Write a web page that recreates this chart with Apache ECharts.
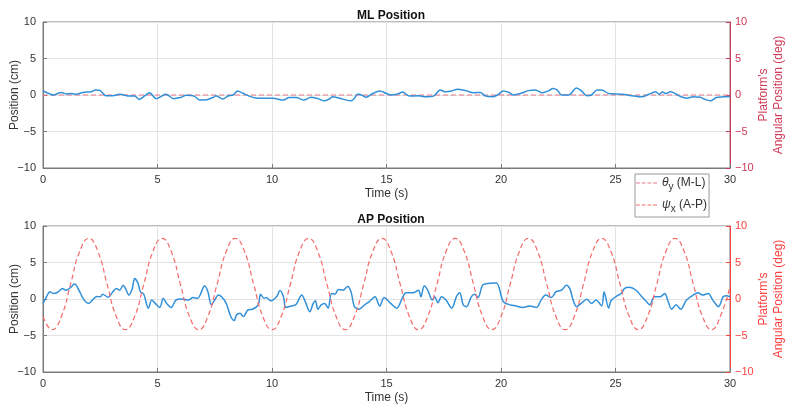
<!DOCTYPE html>
<html><head><meta charset="utf-8">
<script src="https://cdn.jsdelivr.net/npm/echarts@6/dist/echarts.min.js"></script>
<style>html,body{margin:0;padding:0;background:#fff}#c{width:790px;height:410px}</style>
</head><body><div id="c"></div><script>
// ---- data ----
const xTicks = [0, 5, 10, 15, 20, 25, 30];
const yTicks = [-10, -5, 0, 5, 10];

const mlTime = [0,0.3,0.44,0.8,1.0,1.25,1.45,1.75,2.1,2.3,2.5,2.75,3.05,3.35,3.8,4.0,4.2,4.45,4.65,4.95,5.1,5.35,5.45,5.7,6.0,6.25,6.6,6.85,7.15,7.45,7.55,7.85,8.1,8.3,8.5,8.75,9.0,9.3,9.75,10.05,10.5,10.75,11.05,11.4,11.7,12.0,12.3,12.5,12.65,12.95,13.25,13.45,13.6,13.75,13.9,14.1,14.4,14.7,15.0,15.2,15.5,15.7,16.0,16.4,16.7,17.05,17.35,17.55,17.85,18.1,18.45,18.8,19.1,19.3,19.6,19.85,20.1,20.35,20.55,20.85,21.2,21.5,21.8,22.1,22.25,22.45,22.65,22.95,23.3,23.5,23.75,23.95,24.2,24.4,24.7,25.0,25.3,25.7,26.15,26.45,26.75,26.9,27.05,27.2,27.4,27.8,28.1,28.4,28.7,28.9,29.15,29.4,29.7,30.0];
const mlPos = [0.55,0.15,0,0.35,0.15,0.2,0.1,0.35,0.45,0.7,0.6,-0.1,-0.1,0.1,-0.15,-0.15,-0.6,-0.1,0.3,-0.5,-0.3,0.1,0,-0.5,-0.35,-0.05,-0.15,-0.7,-0.65,-0.3,-0.1,-0.55,-0.1,0,0.55,0.2,-0.15,-0.4,-0.45,-0.45,-0.7,-0.35,-0.35,-0.7,-0.3,-0.5,-0.8,-0.55,-0.25,-0.45,-0.7,-0.8,-0.45,0.15,0,-0.3,0.2,0.55,0.2,0,0.15,0.4,-0.15,-0.1,-0.25,-0.15,0.7,0.45,0.55,0.8,0.6,0.3,0.35,-0.1,-0.25,0,0.55,0.35,0,0.2,0.6,0.7,0.3,0.6,0.9,0.7,0,0,0.95,0.6,-0.1,0,0.7,0.7,0.2,0.15,0.1,-0.1,-0.25,0.1,0.45,0.1,0.4,0.2,0.45,-0.15,-0.45,-0.25,-0.3,-0.6,-0.8,-0.35,-0.25,-0.2];

const mlAngleTime = [0, 30];
const mlAngle = [0, 0];

const apTime = [0,0.15,0.3,0.45,0.6,0.75,0.85,1.0,1.25,1.35,1.45,1.6,1.8,2.0,2.2,2.35,2.5,2.6,2.85,3.05,3.2,3.35,3.5,3.6,3.75,3.9,4.0,4.15,4.25,4.4,4.6,4.75,4.9,5.1,5.25,5.4,5.6,5.8,6.05,6.35,6.55,6.75,7.0,7.05,7.2,7.35,7.5,7.65,7.8,8.0,8.2,8.35,8.45,8.6,8.75,8.95,9.15,9.4,9.5,9.65,9.75,9.95,10.2,10.35,10.5,10.6,10.85,11.05,11.3,11.45,11.65,11.8,11.9,12.0,12.15,12.3,12.45,12.6,12.75,12.9,13.1,13.3,13.45,13.6,13.8,14.05,14.25,14.5,14.7,14.9,15.15,15.45,15.7,15.85,16.15,16.4,16.5,16.65,16.8,17.0,17.1,17.25,17.4,17.6,17.85,18.05,18.2,18.35,18.5,18.7,18.85,19.0,19.2,19.5,19.8,20.1,20.4,20.65,20.95,21.25,21.55,21.75,21.95,22.2,22.4,22.65,22.85,23.0,23.15,23.3,23.5,23.75,23.95,24.15,24.4,24.5,24.7,24.8,25.05,25.25,25.4,25.6,25.9,26.15,26.35,26.5,26.7,26.95,27.15,27.3,27.45,27.65,27.85,28.1,28.4,28.6,28.8,29.05,29.25,29.5,29.7,29.85,30.0];
const apPos = [-0.6,0.3,1.0,0.75,0.85,1.2,1.45,1.2,1.7,2.05,1.9,1.0,-0.15,-0.6,0,0.35,0.3,0.65,0.25,1.0,1.45,1.2,1.9,1.45,0.55,1.45,2.8,2.15,1.0,0.65,-1.25,-0.15,-0.6,-1.15,0.1,-0.6,-1.15,-0.15,0,-0.15,0.2,0.1,1.6,1.8,1.0,-0.8,-0.15,0.55,0.3,-0.6,-2.4,-2.95,-2.2,-1.95,-2.4,-1.5,-1.4,-0.8,0.65,0.1,0.2,-0.25,0.3,1.15,0.3,-1.15,-0.95,-0.75,0.55,-0.35,-1.75,-0.6,-0.25,-1.4,-0.8,-0.6,-1.25,0.75,0.65,1.3,1.2,1.7,1.0,-1.05,-1.4,-0.8,-0.35,0.3,-0.95,0.2,-0.5,-1.25,0.2,0.85,0.85,1.2,0.3,1.8,1.2,-0.15,0.3,-0.5,0.3,-0.15,-1.25,0.3,0.85,-0.8,-1.05,0.3,0.65,0.2,1.9,2.15,2.2,-0.35,-0.8,-0.95,-1.15,-0.95,-1.15,-0.15,0.55,0.2,1.0,1.2,1.9,1.45,-0.15,-1.05,-0.6,-0.05,-0.6,-0.15,-0.95,1.0,-1.25,-0.25,0.4,0.75,1.45,1.6,1.2,0.3,-0.35,-0.8,0.3,0.3,0.75,-0.35,-1.4,-0.8,-1.4,-0.15,0.55,0.85,0.55,0.75,-0.15,-1.05,0.3,0.45,0.3];

const apAngleTime = [0,0.4,0.8,1.2,1.6,2.0,2.4,2.8,3.2,3.6,4.0,4.4,4.8,5.2,5.6,6.0,6.4,6.8,7.2,7.6,8.0,8.4,8.8,9.2,9.6,10.0,10.4,10.8,11.2,11.6,12.0,12.4,12.8,13.2,13.6,14.0,14.4,14.8,15.2,15.6,16.0,16.4,16.8,17.2,17.6,18.0,18.4,18.8,19.2,19.6,20.0,20.4,20.8,21.2,21.6,22.0,22.4,22.8,23.2,23.6,24.0,24.4,24.8,25.2,25.6,26.0,26.4,26.8,27.2,27.6,28.0,28.4,28.8,29.2,29.6,30.0];
const apAngle = [-2.4,
  -4.2,-2.4,2.0,6.5,8.3,6.5,2.0,-2.4,
  -4.2,-2.4,2.0,6.5,8.3,6.5,2.0,-2.4,
  -4.2,-2.4,2.0,6.5,8.3,6.5,2.0,-2.4,
  -4.2,-2.4,2.0,6.5,8.3,6.5,2.0,-2.4,
  -4.2,-2.4,2.0,6.5,8.3,6.5,2.0,-2.4,
  -4.2,-2.4,2.0,6.5,8.3,6.5,2.0,-2.4,
  -4.2,-2.4,2.0,6.5,8.3,6.5,2.0,-2.4,
  -4.2,-2.4,2.0,6.5,8.3,6.5,2.0,-2.4,
  -4.2,-2.4,2.0,6.5,8.3,6.5,2.0,-2.4,
  -4.2,-2.2,1.7];

const titles = ['ML Position', 'AP Position'];
const seriesNames = ['ML', 'θy (M-L)', 'AP', 'ψx (A-P)'];
// ---------------------------------------

const pair = (t, v) => t.map((x, i) => [x, v[i]]);
const FONT = '"Liberation Sans", Arial, sans-serif';
const BLUE = '#3190d8';
const DARK = '#333333';
const AXIS = '#7a7a7a';
const RED_TOP = '#d03a56';
const RED_BOT = '#ff4040';
const DASH_TOP = '#e8788a';
const DASH_BOT = '#f56a6a';
const minus = v => String(v).replace('-', '\u2212');
const DASH_ICON = 'path://M0,0h4v1h-4zM6,0h4v1h-4zM12,0h4v1h-4zM18,0h4v1h-4z';

const grids = [
  {left: 43, right: 60, top: 22, height: 146, show: true, borderColor: AXIS, borderWidth: 1, backgroundColor: '#fff', outerBoundsMode: 'none', containLabel: false},
  {left: 43, right: 60, top: 226, height: 146, show: true, borderColor: AXIS, borderWidth: 1, backgroundColor: '#fff', outerBoundsMode: 'none', containLabel: false}
];

function xAx(i) {
  return {
    type: 'value', gridIndex: i, min: xTicks[0], max: xTicks[xTicks.length-1], interval: 5,
    name: 'Time (s)', nameLocation: 'middle', nameGap: 20, nameMoveOverlap: false,
    nameTextStyle: {color: DARK, fontSize: 12, fontFamily: FONT},
    axisLine: {show: true, onZero: false, lineStyle: {color: AXIS, width: 1}},
    axisTick: {show: true, inside: true, length: 4, lineStyle: {color: AXIS}},
    axisLabel: {color: DARK, fontSize: 11, fontFamily: FONT, margin: 6},
    splitLine: {show: true, lineStyle: {color: '#e4e4e4', width: 1}}
  };
}
function yLeft(i) {
  return {
    type: 'value', gridIndex: i, position: 'left', min: -10, max: 10, interval: 5,
    name: 'Position (cm)', nameLocation: 'middle', nameGap: 22, nameRotate: 90, nameMoveOverlap: false,
    nameTextStyle: {color: DARK, fontSize: 12, fontFamily: FONT},
    axisLine: {show: true, onZero: false, lineStyle: {color: AXIS, width: 1}},
    axisTick: {show: true, inside: true, length: 4, lineStyle: {color: AXIS}},
    axisLabel: {color: DARK, fontSize: 11, fontFamily: FONT, margin: 7, formatter: minus},
    splitLine: {show: true, lineStyle: {color: '#e4e4e4', width: 1}}
  };
}
function yRight(i, col) {
  return {
    type: 'value', gridIndex: i, position: 'right', min: -10, max: 10, interval: 5,
    name: "Platform's\nAngular Position (deg)", nameLocation: 'middle', nameGap: 26, nameRotate: 90, nameMoveOverlap: false,
    nameTextStyle: {color: col, fontSize: 12, fontFamily: FONT, lineHeight: 15},
    axisLine: {show: true, onZero: false, lineStyle: {color: col, width: 1}},
    axisTick: {show: true, inside: true, length: 4, lineStyle: {color: col}},
    axisLabel: {color: col, fontSize: 11, fontFamily: FONT, margin: 5, formatter: minus},
    splitLine: {show: false}
  };
}

const chart = echarts.init(document.getElementById('c'), null, {renderer: 'canvas'});
chart.setOption({
  animation: false,
  backgroundColor: '#fff',
  title: [
    {text: titles[0], left: 386, top: 5, textAlign: 'center', textStyle: {fontSize: 12, fontWeight: 'bold', color: '#111', fontFamily: FONT}},
    {text: titles[1], left: 386, top: 209, textAlign: 'center', textStyle: {fontSize: 12, fontWeight: 'bold', color: '#111', fontFamily: FONT}}
  ],
  grid: grids,
  xAxis: [xAx(0), xAx(1)],
  yAxis: [yLeft(0), yRight(0, RED_TOP), yLeft(1), yRight(1, RED_BOT)],
  legend: {
    data: [{name: seriesNames[1], icon: DASH_ICON}, {name: seriesNames[3], icon: DASH_ICON}],
    orient: 'vertical', left: 635, top: 174,
    backgroundColor: '#fff', borderColor: '#9a9a9a', borderWidth: 1, borderRadius: 0,
    padding: [3, 2, 3, 1], itemGap: 7, itemWidth: 21, itemHeight: 2,
    textStyle: {color: DARK, fontSize: 12, fontFamily: FONT,
      rich: {
        g: {fontStyle: 'italic', fontSize: 12, fontFamily: FONT, color: DARK},
        s: {fontSize: 10, fontFamily: FONT, color: DARK, padding: [8, 0, 0, 0]},
        t: {fontSize: 12, fontFamily: FONT, color: DARK}
      }},
    formatter: n => n === seriesNames[1] ? '{g|θ}{s|y}{t| (M-L)}' : '{g|ψ}{s|x}{t| (A-P)}'
  },
  series: [
    {name: seriesNames[1], type: 'line', xAxisIndex: 0, yAxisIndex: 1, data: pair(mlAngleTime, mlAngle),
      symbol: 'none', lineStyle: {color: DASH_TOP, width: 1.2, type: [5, 3]}, itemStyle: {color: DASH_TOP}, z: 2},
    {name: seriesNames[0], type: 'line', xAxisIndex: 0, yAxisIndex: 0, data: pair(mlTime, mlPos),
      symbol: 'none', smooth: 0.3, lineStyle: {color: BLUE, width: 1.5}, itemStyle: {color: BLUE}, z: 3},
    {name: seriesNames[2], type: 'line', xAxisIndex: 1, yAxisIndex: 2, data: pair(apTime, apPos),
      symbol: 'none', smooth: 0.3, lineStyle: {color: BLUE, width: 1.5}, itemStyle: {color: BLUE}, z: 3},
    {name: seriesNames[3], type: 'line', xAxisIndex: 1, yAxisIndex: 3, data: pair(apAngleTime, apAngle),
      symbol: 'none', smooth: 0.5, lineStyle: {color: DASH_BOT, width: 1.2, type: [5, 3]}, itemStyle: {color: DASH_BOT}, z: 4}
  ]
});
</script></body></html>
